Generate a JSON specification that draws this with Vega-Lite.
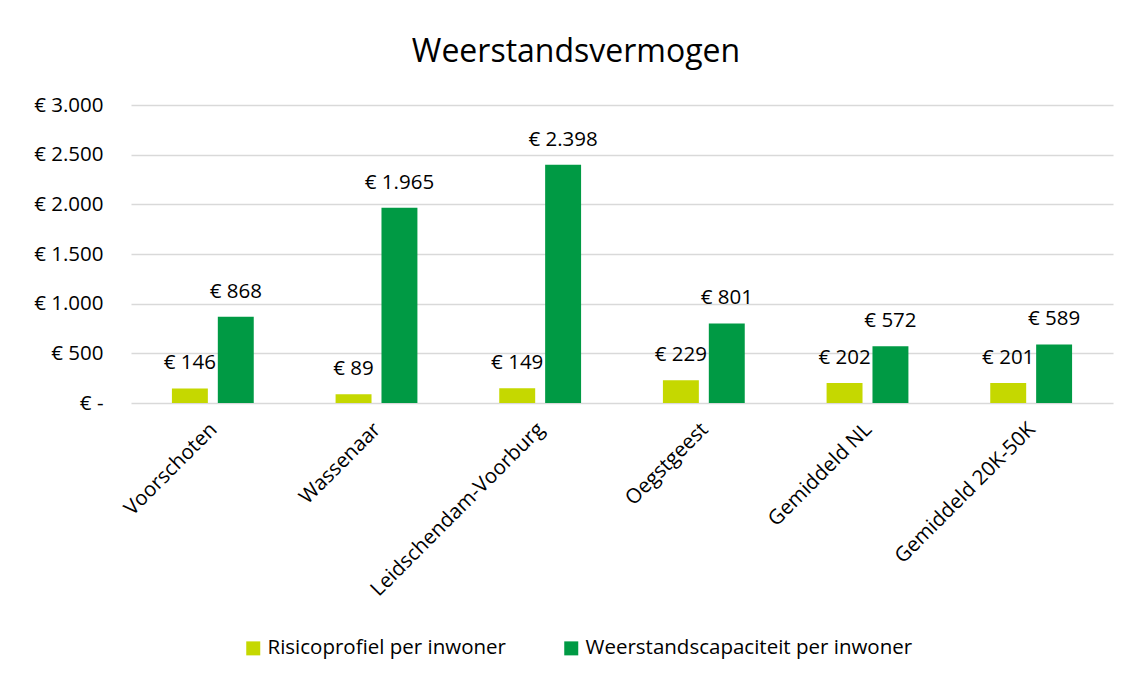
{
  "$schema": "https://vega.github.io/schema/vega-lite/v6.json",
  "width": 982,
  "height": 298,
  "autosize": {"type": "none"},
  "padding": {"left": 131, "top": 105, "right": 20, "bottom": 281},
  "background": "white",
  "title": {
    "text": "Weerstandsvermogen",
    "fontSize": 32,
    "font": "Open Sans",
    "fontWeight": "normal",
    "color": "#000000",
    "anchor": "middle",
    "dx": -46,
    "offset": 26
  },
  "data": {
    "values": [
      {"gemeente": "Voorschoten", "reeks": "Risicoprofiel per inwoner", "waarde": 146},
      {"gemeente": "Voorschoten", "reeks": "Weerstandscapaciteit per inwoner", "waarde": 868},
      {"gemeente": "Wassenaar", "reeks": "Risicoprofiel per inwoner", "waarde": 89},
      {"gemeente": "Wassenaar", "reeks": "Weerstandscapaciteit per inwoner", "waarde": 1965},
      {"gemeente": "Leidschendam-Voorburg", "reeks": "Risicoprofiel per inwoner", "waarde": 149},
      {"gemeente": "Leidschendam-Voorburg", "reeks": "Weerstandscapaciteit per inwoner", "waarde": 2398},
      {"gemeente": "Oegstgeest", "reeks": "Risicoprofiel per inwoner", "waarde": 229},
      {"gemeente": "Oegstgeest", "reeks": "Weerstandscapaciteit per inwoner", "waarde": 801},
      {"gemeente": "Gemiddeld NL", "reeks": "Risicoprofiel per inwoner", "waarde": 202},
      {"gemeente": "Gemiddeld NL", "reeks": "Weerstandscapaciteit per inwoner", "waarde": 572},
      {"gemeente": "Gemiddeld 20K-50K", "reeks": "Risicoprofiel per inwoner", "waarde": 201},
      {"gemeente": "Gemiddeld 20K-50K", "reeks": "Weerstandscapaciteit per inwoner", "waarde": 589}
    ]
  },
  "encoding": {
    "x": {
      "field": "gemeente",
      "type": "nominal",
      "sort": null,
      "title": null,
      "scale": {"paddingInner": 0.5, "paddingOuter": 0.25},
      "axis": {
        "labelAngle": -45,
        "labelAlign": "right",
        "labelBaseline": "middle",
        "labelFontSize": 20.5,
        "labelFont": "Open Sans",
        "labelColor": "#000000",
        "labelPadding": 23,
        "labelOffset": 1,
        "ticks": false,
        "domain": false,
        "grid": false,
        "labelLimit": 400
      }
    },
    "xOffset": {
      "field": "reeks",
      "type": "nominal",
      "scale": {"paddingInner": 0.217, "paddingOuter": 0}
    },
    "y": {
      "field": "waarde",
      "type": "quantitative",
      "title": null,
      "scale": {"domain": [0, 3000], "nice": false},
      "axis": {
        "values": [0, 500, 1000, 1500, 2000, 2500, 3000],
        "format": "$,.0f",
        "labelExpr": "datum.value == 0 ? '€ -' : datum.label",
        "labelFontSize": 20.5,
        "labelFont": "Open Sans",
        "labelColor": "#000000",
        "labelPadding": 28,
        "ticks": false,
        "domain": false,
        "grid": true,
        "gridColor": "#d9d9d9",
        "gridWidth": 1.5
      }
    }
  },
  "layer": [
    {
      "mark": {"type": "bar"},
      "encoding": {
        "color": {
          "field": "reeks",
          "type": "nominal",
          "title": null,
          "scale": {
            "domain": ["Risicoprofiel per inwoner", "Weerstandscapaciteit per inwoner"],
            "range": ["#c5d800", "#009a44"]
          },
          "legend": {
            "orient": "none",
            "legendX": 112,
            "legendY": 533,
            "direction": "horizontal",
            "symbolType": "square",
            "symbolSize": 196,
            "symbolStrokeWidth": 0,
            "labelFontSize": 20.5,
            "labelFont": "Open Sans",
            "labelColor": "#000000",
            "columnPadding": 55,
            "labelLimit": 400
          }
        }
      }
    },
    {
      "mark": {"type": "text", "baseline": "bottom", "dy": -15, "fontSize": 20.5, "font": "Open Sans", "color": "#000000"},
      "encoding": {
        "text": {"field": "waarde", "type": "quantitative", "format": "$,.0f"}
      }
    }
  ],
  "config": {
    "locale": {
      "number": {
        "decimal": ",",
        "thousands": ".",
        "grouping": [3],
        "currency": ["€ ", ""]
      }
    },
    "view": {"stroke": null}
  }
}
